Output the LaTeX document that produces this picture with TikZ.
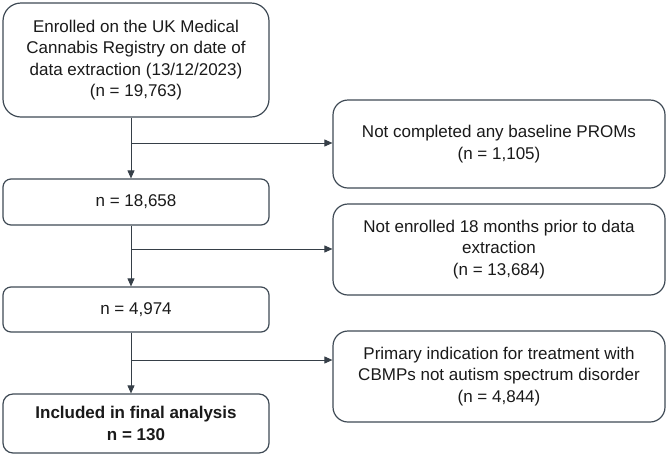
\documentclass[tikz,border=0pt]{standalone}
\usepackage{fontspec}
\setmainfont{Liberation Sans}
\usetikzlibrary{arrows.meta,calc}
\definecolor{edge}{HTML}{3F4A55}
\definecolor{txt}{HTML}{1A1A1A}
\tikzset{
  box/.style={draw=edge, line width=1.2pt, fill=white, inner sep=0pt, align=center,
    text=txt, font=\fontsize{17pt}{21.5pt}\selectfont},
  leftbox/.style={box, minimum width=266pt},
  rightbox/.style={box, minimum width=332pt, rounded corners=15pt},
  arr/.style={draw=edge!85!black, line width=0.9pt, -{Triangle[length=8pt,width=7pt]}},
}
\begin{document}
\begin{tikzpicture}[x=1pt,y=-1pt]
\useasboundingbox (0,0) rectangle (669,456);
\node[leftbox, minimum height=114pt, rounded corners=18pt] (b1) at (136,60)
  {Enrolled on the UK Medical\\Cannabis Registry on date of\\data extraction (13/12/2023)\\(n = 19,763)};
\node[leftbox, minimum height=46pt, rounded corners=8pt] (b2) at (136,202) {n = 18,658};
\node[leftbox, minimum height=45pt, rounded corners=8pt] (b3) at (136,309.5) {n = 4,974};
\node[leftbox, minimum height=59pt, rounded corners=10pt, font=\fontsize{17pt}{22.5pt}\selectfont\bfseries] (b4) at (136,423.5)
  {Included in final analysis\\n = 130};
\node[rightbox, minimum height=88pt] (r1) at (499,144)
  {Not completed any baseline PROMs\\(n = 1,105)};
\node[rightbox, minimum height=91pt] (r2) at (499,249.5)
  {Not enrolled 18 months prior to data\\extraction\\(n = 13,684)};
\node[rightbox, minimum height=91pt] (r3) at (499,376.5)
  {Primary indication for treatment with\\CBMPs not autism spectrum disorder\\(n = 4,844)};
\coordinate (j1) at (131,143);
\coordinate (j2) at (131,249);
\coordinate (j3) at (131,360);
\draw[arr] (b1.south -| j1) -- (b2.north -| j1);
\draw[arr] (j1) -- (j1 -| r1.west);
\draw[arr] (b2.south -| j2) -- (b3.north -| j2);
\draw[arr] (j2) -- (j2 -| r2.west);
\draw[arr] (b3.south -| j3) -- (b4.north -| j3);
\draw[arr] (j3) -- (j3 -| r3.west);
\end{tikzpicture}
\end{document}
